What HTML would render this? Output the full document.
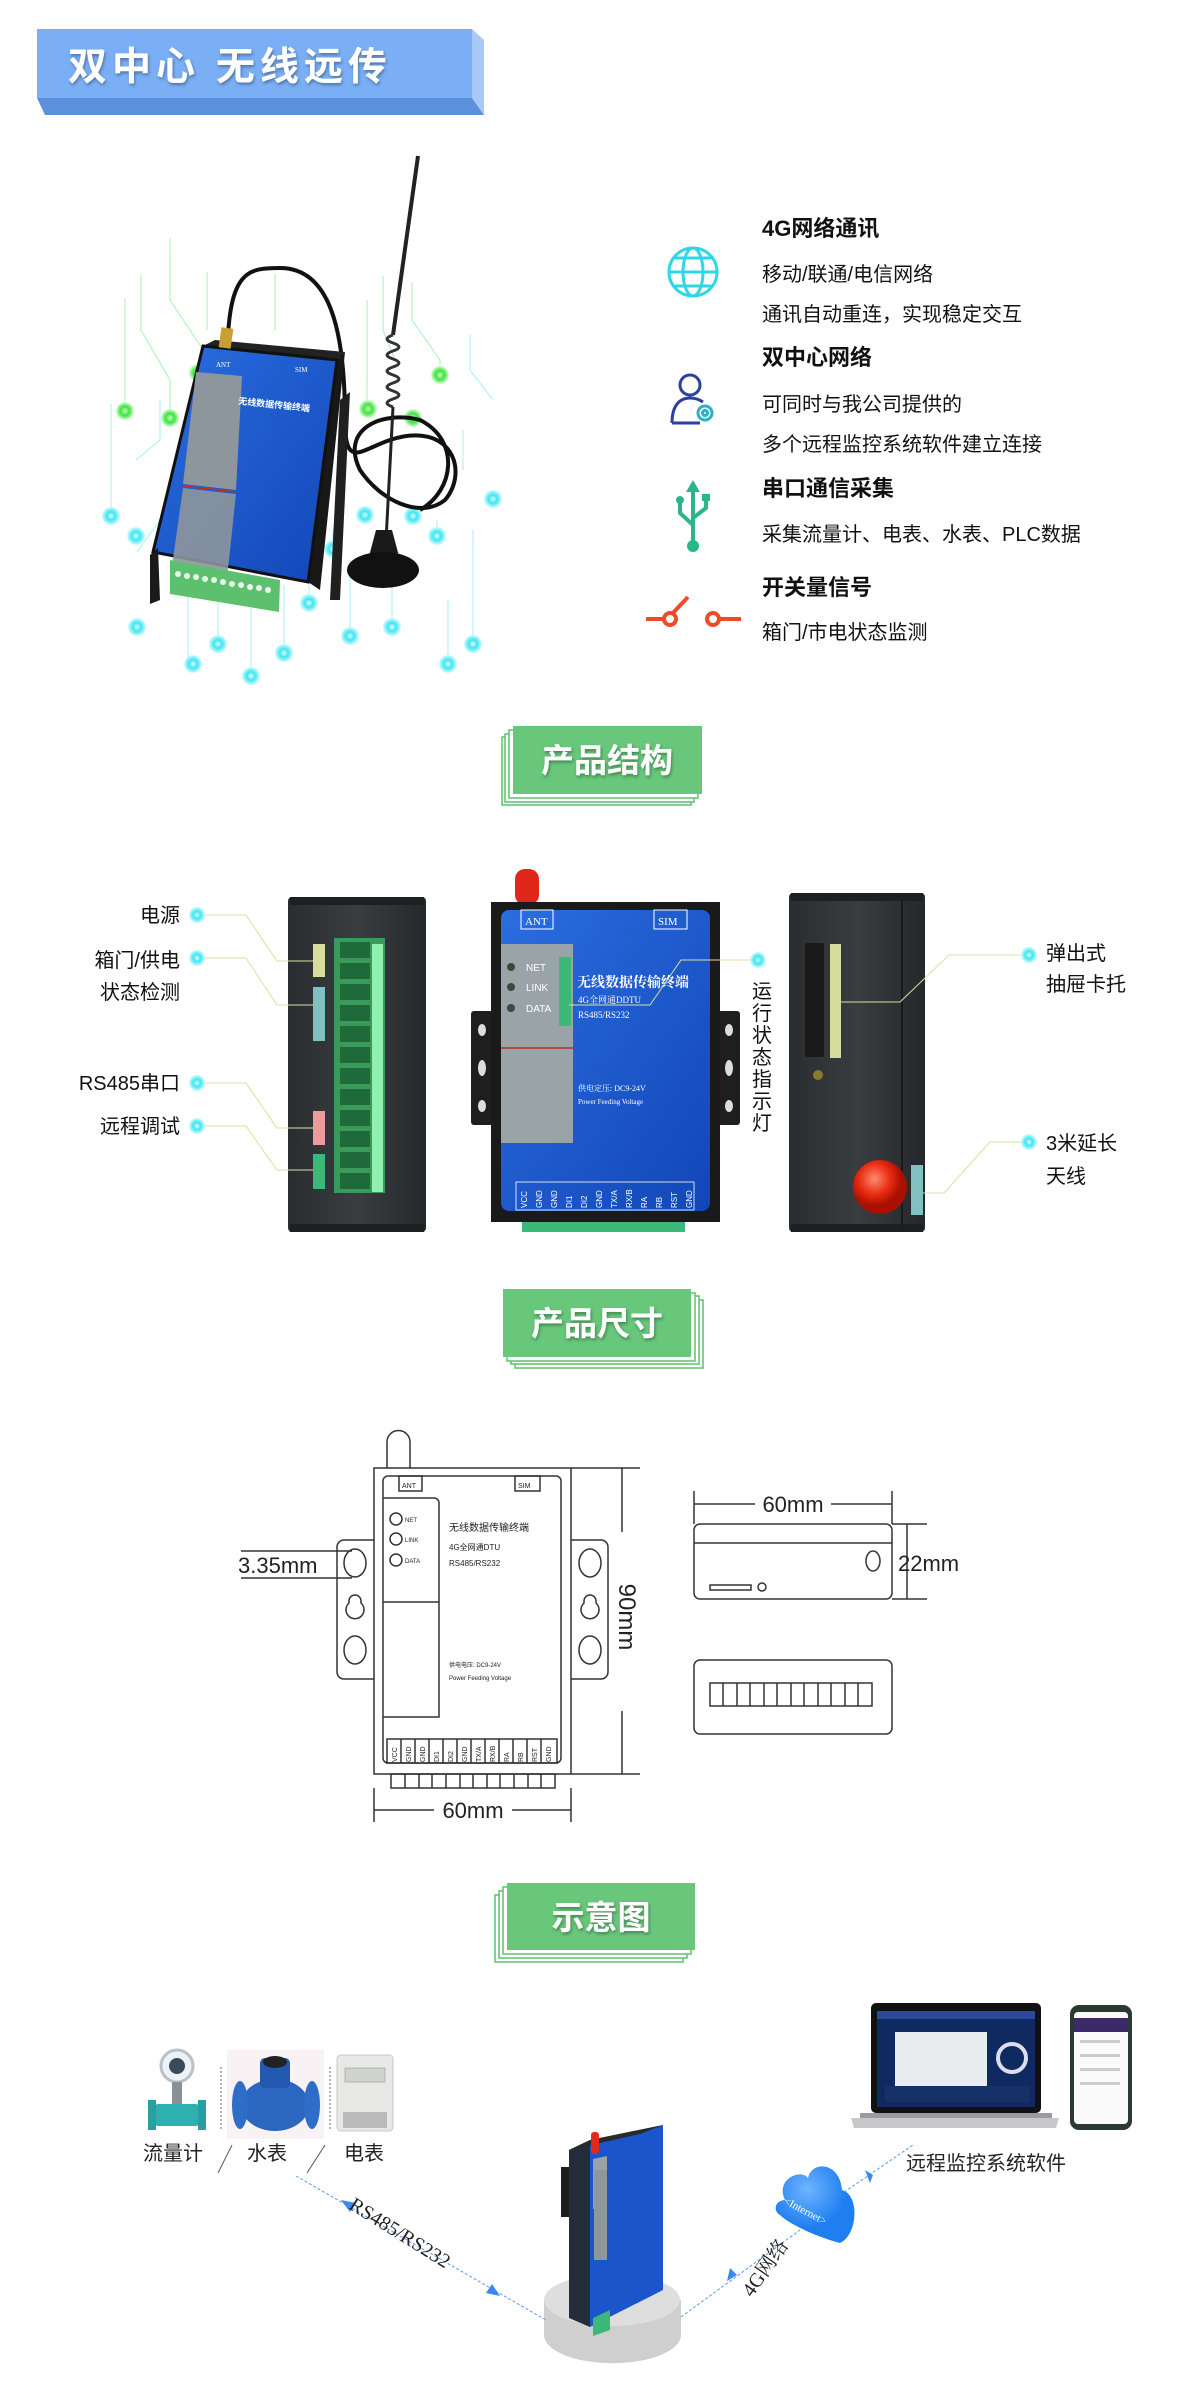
<!DOCTYPE html>
<html><head><meta charset="utf-8"><style>
html,body{margin:0;padding:0;background:#fff;}
svg{display:block;}
text{font-family:"Liberation Sans","Noto Sans CJK SC",sans-serif;}
.s{font-family:"Liberation Serif","Noto Serif CJK SC",serif;}
</style></head><body>
<svg width="1200" height="2401" viewBox="0 0 1200 2401" xmlns="http://www.w3.org/2000/svg">
<defs>
<filter id="sh" x="-10%" y="-10%" width="120%" height="130%"><feDropShadow dx="1" dy="2" stdDeviation="1.5" flood-color="#000" flood-opacity="0.35"/></filter>
<linearGradient id="blue" x1="0" y1="0" x2="1" y2="1"><stop offset="0" stop-color="#2a6ee0"/><stop offset="1" stop-color="#1246b8"/></linearGradient>
<linearGradient id="dark" x1="0" y1="0" x2="1" y2="0"><stop offset="0" stop-color="#2a2d30"/><stop offset=".5" stop-color="#3a3d40"/><stop offset="1" stop-color="#25282a"/></linearGradient>
<radialGradient id="cy"><stop offset="0" stop-color="#e8feff"/><stop offset=".45" stop-color="#3ee6f3"/><stop offset=".7" stop-color="#7ff0f8"/><stop offset="1" stop-color="#d5fbfe"/></radialGradient>
<radialGradient id="gr"><stop offset="0" stop-color="#c6ffc0"/><stop offset=".5" stop-color="#3fe23f"/><stop offset=".75" stop-color="#8cf08a"/><stop offset="1" stop-color="#dcfcdb"/></radialGradient>
<radialGradient id="knob" cx=".4" cy=".35"><stop offset="0" stop-color="#ff8a70"/><stop offset=".6" stop-color="#e82a10"/><stop offset="1" stop-color="#a81000"/></radialGradient>
<radialGradient id="cloud" cx=".4" cy=".3"><stop offset="0" stop-color="#6fb4ff"/><stop offset="1" stop-color="#1f7ff0"/></radialGradient>
</defs>

<!-- ===== Banner ===== -->
<polygon points="472,29 484,40 484,115 472,98" fill="#a9c9f9"/>
<polygon points="37,98 472,98 484,115 45,115" fill="#5b90dd"/>
<rect x="37" y="29" width="435" height="69" fill="#7aaff6"/>
<text x="68" y="80" font-size="39" font-weight="bold" fill="#fff" letter-spacing="5" filter="url(#sh)">双中心  无线远传</text>

<!-- ===== Section 1 product ===== -->
<g stroke="#8ff0a0" stroke-width="1" fill="none" opacity=".8">
<path d="M170 238 V300 L210 360"/><path d="M141 275 V330 L170 380 V418"/><path d="M125 298 V410"/><path d="M207 272 V330"/><path d="M275 274 V330"/><path d="M383 276 V330 L395 360"/><path d="M412 282 V320 L440 360 V375"/><path d="M367 300 V410"/>
</g>
<g stroke="#8eeaf2" stroke-width="1" fill="none" opacity=".8">
<path d="M111 404 V516"/><path d="M136 460 L160 440 V400"/><path d="M137 552 L160 520"/><path d="M188 575 V663"/><path d="M218 590 V645"/><path d="M251 600 V675"/><path d="M284 585 V653"/><path d="M309 530 V603"/><path d="M333 530 V548"/><path d="M350 560 V636"/><path d="M392 560 V627"/><path d="M437 520 V536"/><path d="M448 600 L448 664"/><path d="M473 530 V644"/><path d="M493 400 L470 370 V335"/><path d="M463 430 V470"/>
</g>
<g fill="url(#cy)">
<circle cx="111" cy="516" r="9"/><circle cx="136" cy="536" r="9"/><circle cx="137" cy="627" r="9"/><circle cx="193" cy="664" r="9"/><circle cx="218" cy="644" r="9"/><circle cx="251" cy="676" r="9"/><circle cx="284" cy="653" r="9"/><circle cx="309" cy="603" r="9"/><circle cx="333" cy="549" r="9"/><circle cx="350" cy="636" r="9"/><circle cx="365" cy="515" r="9"/><circle cx="392" cy="627" r="9"/><circle cx="413" cy="516" r="9"/><circle cx="437" cy="536" r="9"/><circle cx="448" cy="664" r="9"/><circle cx="473" cy="644" r="9"/><circle cx="493" cy="499" r="9"/>
</g>
<g fill="url(#gr)">
<circle cx="125" cy="411" r="9"/><circle cx="170" cy="418" r="9"/><circle cx="198" cy="373" r="9"/><circle cx="368" cy="409" r="9"/><circle cx="413" cy="418" r="9"/><circle cx="440" cy="375" r="9"/>
</g>
<!-- cable -->
<path d="M228 335 C232 270 250 268 280 268 C330 268 345 330 345 420 C345 470 360 450 390 440 C450 420 470 470 445 500 C420 520 380 500 360 470 C340 430 380 410 420 420 C460 440 455 490 420 510" stroke="#111" stroke-width="4" fill="none"/>
<!-- antenna -->
<line x1="418" y1="156" x2="393" y2="335" stroke="#222" stroke-width="4"/>
<path d="M393 335 q-12 4 0 8 q12 4 0 8 q-12 4 0 8 q12 4 0 8 q-12 4 0 8 q12 4 0 8 q-12 4 0 8 q12 4 0 8 q-12 4 0 8" stroke="#333" stroke-width="3" fill="none"/>
<line x1="393" y1="407" x2="385" y2="560" stroke="#222" stroke-width="3"/>
<path d="M376 530 L392 530 L400 560 L368 560 Z" fill="#1a1a1a"/>
<ellipse cx="383" cy="570" rx="36" ry="18" fill="#111"/>
<!-- device body -->
<polygon points="203,346 215,340 345,352 337,360" fill="#222"/>
<polygon points="337,360 345,352 320,590 308,582" fill="#181818"/>
<polygon points="203,346 337,360 308,582 153,552" fill="url(#blue)" stroke="#111" stroke-width="3"/>
<polygon points="196,372 242,376 236,490 183,484" fill="#8d969c"/>
<polygon points="183,488 236,494 226,588 170,580" fill="#8d969c" opacity=".9"/>
<line x1="183" y1="486" x2="236" y2="492" stroke="#c03020" stroke-width="1.5"/>
<polygon points="150,555 158,548 160,600 150,604" fill="#1a1a1a"/>
<polygon points="170,560 280,580 279,612 170,594" fill="#5cc06e"/>
<g fill="#e8f8ea"><circle cx="178" cy="574" r="3"/><circle cx="187" cy="576" r="3"/><circle cx="196" cy="577" r="3"/><circle cx="205" cy="579" r="3"/><circle cx="214" cy="580" r="3"/><circle cx="223" cy="582" r="3"/><circle cx="232" cy="584" r="3"/><circle cx="241" cy="585" r="3"/><circle cx="250" cy="587" r="3"/><circle cx="259" cy="588" r="3"/><circle cx="268" cy="590" r="3"/></g>
<rect x="220" y="328" width="12" height="20" fill="#c9a030" transform="rotate(8 226 338)"/>
<text x="216" y="367" font-size="7" fill="#fff" class="s">ANT</text><text x="295" y="372" font-size="7" fill="#fff" class="s">SIM</text>
<text x="238" y="404" font-size="9" fill="#fff" font-weight="bold" transform="rotate(6 238 404)">无线数据传输终端</text>
<polygon points="340,400 350,392 340,600 330,600" fill="#202020"/>

<!-- features -->
<g fill="none" stroke="#2fd6e6" stroke-width="3">
<circle cx="693" cy="272" r="24"/><ellipse cx="693" cy="272" rx="10" ry="24"/><line x1="669" y1="272" x2="717" y2="272"/><path d="M673 258 H713 M673 286 H713"/>
</g>
<g fill="none" stroke="#2b3f9e" stroke-width="3">
<circle cx="690" cy="385" r="10"/><path d="M672 423 C672 405 680 398 690 398 C696 398 700 400 703 402"/><line x1="672" y1="423" x2="700" y2="423"/>
<circle cx="705" cy="413" r="7" stroke="#2bb0d0"/><circle cx="705" cy="413" r="2.5" stroke="#2bb0d0"/>
</g>
<g stroke="#2bb58a" stroke-width="4" fill="none">
<line x1="693" y1="486" x2="693" y2="545"/><path d="M693 525 L680 513 V502"/><path d="M693 518 L706 508 V500"/>
</g>
<polygon points="693,480 686,492 700,492" fill="#2bb58a"/><circle cx="693" cy="546" r="6" fill="#2bb58a"/><circle cx="680" cy="500" r="4" fill="#2bb58a"/><rect x="702" y="494" width="8" height="7" fill="#2bb58a"/>
<g stroke="#ee4b28" stroke-width="4" fill="none">
<line x1="646" y1="619" x2="664" y2="619"/><circle cx="670" cy="619" r="6"/><line x1="672" y1="614" x2="688" y2="597"/><circle cx="713" cy="619" r="6"/><line x1="719" y1="619" x2="741" y2="619"/>
</g>
<g font-size="20" fill="#111">
<text x="762" y="236" font-size="22" font-weight="bold">4G网络通讯</text>
<text x="762" y="281">移动/联通/电信网络</text>
<text x="762" y="321">通讯自动重连，实现稳定交互</text>
<text x="762" y="365" font-size="22" font-weight="bold">双中心网络</text>
<text x="762" y="411">可同时与我公司提供的</text>
<text x="762" y="451">多个远程监控系统软件建立连接</text>
<text x="762" y="496" font-size="22" font-weight="bold">串口通信采集</text>
<text x="762" y="541">采集流量计、电表、水表、PLC数据</text>
<text x="762" y="595" font-size="22" font-weight="bold">开关量信号</text>
<text x="762" y="639">箱门/市电状态监测</text>
</g>

<!-- ===== Badge 产品结构 ===== -->
<g fill="#fff" stroke="#5fc06e" stroke-width="1.5">
<rect x="502" y="737" width="189" height="68"/><rect x="505" y="734" width="189" height="68"/><rect x="509" y="730" width="189" height="68"/>
</g>
<rect x="513" y="726" width="189" height="68" fill="#68c77b"/>
<text x="607" y="772" font-size="33" font-weight="bold" fill="#fff" text-anchor="middle" filter="url(#sh)">产品结构</text>

<!-- ===== Section 2 ===== -->
<!-- left panel -->
<rect x="288" y="897" width="138" height="335" rx="4" fill="url(#dark)"/>
<rect x="290" y="897" width="134" height="8" fill="#1d1f21"/>
<rect x="290" y="1224" width="134" height="8" fill="#1d1f21"/>
<rect x="334" y="938" width="51" height="255" fill="#3a9a5a"/>
<g fill="#1f6a3a"><rect x="340" y="942" width="30" height="16"/><rect x="340" y="963" width="30" height="16"/><rect x="340" y="984" width="30" height="16"/><rect x="340" y="1005" width="30" height="16"/><rect x="340" y="1026" width="30" height="16"/><rect x="340" y="1047" width="30" height="16"/><rect x="340" y="1068" width="30" height="16"/><rect x="340" y="1089" width="30" height="16"/><rect x="340" y="1110" width="30" height="16"/><rect x="340" y="1131" width="30" height="16"/><rect x="340" y="1152" width="30" height="16"/><rect x="340" y="1173" width="30" height="16"/></g>
<g fill="#8ff0b0"><rect x="372" y="944" width="11" height="248"/></g>
<rect x="313" y="944" width="12" height="33" fill="#d6dc9c"/>
<rect x="313" y="987" width="12" height="54" fill="#80c0c0"/>
<rect x="313" y="1111" width="12" height="34" fill="#ea9c9c"/>
<rect x="313" y="1154" width="12" height="35" fill="#3cb878"/>
<g stroke="#d8e0a0" stroke-width="1" fill="none">
<path d="M205 915 H246 L277 961 H313"/><path d="M205 958 H246 L277 1005 H313"/><path d="M205 1083 H246 L277 1128 H313"/><path d="M205 1126 H246 L277 1170 H313"/>
</g>
<g fill="url(#cy)"><circle cx="197" cy="915" r="8"/><circle cx="197" cy="958" r="8"/><circle cx="197" cy="1083" r="8"/><circle cx="197" cy="1126" r="8"/><circle cx="758" cy="960" r="8"/><circle cx="1029" cy="955" r="8"/><circle cx="1029" cy="1142" r="8"/></g>
<g font-size="20" fill="#111" text-anchor="end">
<text x="180" y="922">电源</text><text x="180" y="967">箱门/供电</text><text x="180" y="999">状态检测</text><text x="180" y="1090">RS485串口</text><text x="180" y="1133">远程调试</text>
</g>
<!-- middle device -->
<rect x="515" y="869" width="24" height="36" rx="10" fill="#e0281a"/>
<rect x="471" y="1011" width="22" height="114" rx="3" fill="#1e1e1e"/><rect x="718" y="1011" width="22" height="114" rx="3" fill="#1e1e1e"/>
<ellipse cx="482" cy="1030" rx="4" ry="6" fill="#ddd"/><ellipse cx="482" cy="1068" rx="4" ry="8" fill="#ddd"/><ellipse cx="482" cy="1106" rx="4" ry="6" fill="#ddd"/>
<ellipse cx="729" cy="1030" rx="4" ry="6" fill="#ddd"/><ellipse cx="729" cy="1068" rx="4" ry="8" fill="#ddd"/><ellipse cx="729" cy="1106" rx="4" ry="6" fill="#ddd"/>
<rect x="491" y="902" width="229" height="320" fill="#1a1a1a"/>
<rect x="522" y="1222" width="163" height="10" fill="#3cb878"/>
<rect x="501" y="910" width="209" height="301" rx="8" fill="url(#blue)"/>
<rect x="501" y="944" width="72" height="104" fill="#9aa3a8"/><rect x="501" y="1048" width="72" height="95" fill="#9aa3a8"/>
<line x1="501" y1="1048" x2="573" y2="1048" stroke="#b03020" stroke-width="1.5"/>
<rect x="559" y="957" width="12" height="69" fill="#3cb878"/>
<rect x="521" y="910" width="32" height="19" fill="none" stroke="#fff" stroke-width="1"/><rect x="654" y="910" width="33" height="19" fill="none" stroke="#fff" stroke-width="1"/>
<text x="525" y="925" font-size="11" fill="#fff" class="s">ANT</text><text x="658" y="925" font-size="11" fill="#fff" class="s">SIM</text>
<g fill="#3a4a3a"><circle cx="511" cy="967" r="4"/><circle cx="511" cy="987" r="4"/><circle cx="511" cy="1008" r="4"/></g>
<g font-size="10" fill="#fff" class="s"><text x="526" y="971">NET</text><text x="526" y="991">LINK</text><text x="526" y="1012">DATA</text></g>
<text x="577" y="987" font-size="14" font-weight="bold" fill="#fff" class="s">无线数据传输终端</text>
<text x="578" y="1003" font-size="9" fill="#fff" class="s">4G全网通DDTU</text>
<text x="578" y="1018" font-size="9" fill="#fff" class="s">RS485/RS232</text>
<text x="578" y="1091" font-size="8" fill="#fff" class="s">供电定压: DC9-24V</text>
<text x="578" y="1104" font-size="7" fill="#fff" class="s">Power Feeding Voltage</text>
<rect x="516" y="1182" width="178" height="28" fill="none" stroke="#fff" stroke-width=".8"/>
<g font-size="8" fill="#fff" class="s">
<text transform="translate(527 1208) rotate(-90)">VCC</text><text transform="translate(542 1208) rotate(-90)">GND</text><text transform="translate(557 1208) rotate(-90)">GND</text><text transform="translate(572 1208) rotate(-90)">DI1</text><text transform="translate(587 1208) rotate(-90)">DI2</text><text transform="translate(602 1208) rotate(-90)">GND</text><text transform="translate(617 1208) rotate(-90)">TX/A</text><text transform="translate(632 1208) rotate(-90)">RX/B</text><text transform="translate(647 1208) rotate(-90)">RA</text><text transform="translate(662 1208) rotate(-90)">RB</text><text transform="translate(677 1208) rotate(-90)">RST</text><text transform="translate(692 1208) rotate(-90)">GND</text>
</g>
<path d="M750 960 H681 L650 1005 H569" stroke="#d8e0a0" stroke-width="1" fill="none"/>
<g font-size="20" fill="#111">
<text x="752" y="998">运</text><text x="752" y="1020">行</text><text x="752" y="1042">状</text><text x="752" y="1064">态</text><text x="752" y="1086">指</text><text x="752" y="1108">示</text><text x="752" y="1130">灯</text>
</g>
<!-- right panel -->
<rect x="789" y="893" width="136" height="339" rx="4" fill="url(#dark)"/>
<rect x="791" y="893" width="132" height="8" fill="#1d1f21"/><rect x="791" y="1224" width="132" height="8" fill="#1d1f21"/>
<line x1="902" y1="900" x2="902" y2="1228" stroke="#1a1a1a" stroke-width="2"/>
<rect x="805" y="943" width="19" height="114" rx="2" fill="#1a1a1a"/>
<rect x="830" y="944" width="11" height="114" fill="#d6dc9c"/>
<circle cx="818" cy="1075" r="5" fill="#8a7a30"/>
<circle cx="880" cy="1187" r="27" fill="url(#knob)"/>
<rect x="911" y="1165" width="12" height="50" fill="#80c0c0"/>
<path d="M1021 955 H949 L900 1002 H841" stroke="#d8e0a0" stroke-width="1" fill="none"/>
<path d="M1021 1142 H990 L944 1193 H923" stroke="#d8e0a0" stroke-width="1" fill="none"/>
<g font-size="20" fill="#111">
<text x="1046" y="960">弹出式</text><text x="1046" y="991">抽屉卡托</text><text x="1046" y="1150">3米延长</text><text x="1046" y="1183">天线</text>
</g>

<!-- ===== Badge 产品尺寸 ===== -->
<g fill="#fff" stroke="#5fc06e" stroke-width="1.5">
<rect x="515" y="1300" width="188" height="68"/><rect x="511" y="1296" width="188" height="68"/><rect x="507" y="1293" width="188" height="68"/>
</g>
<rect x="503" y="1289" width="188" height="68" fill="#68c77b"/>
<text x="597" y="1335" font-size="33" font-weight="bold" fill="#fff" text-anchor="middle" filter="url(#sh)">产品尺寸</text>

<!-- ===== Section 3 drawing ===== -->
<g fill="none" stroke="#333" stroke-width="1.5">
<path d="M387 1468 V1442 a11.5 11.5 0 0 1 23 0 V1468"/>
<rect x="374" y="1468" width="197" height="306"/>
<rect x="383" y="1476" width="178" height="287" rx="5"/>
<rect x="399" y="1476" width="23" height="15"/><rect x="515" y="1476" width="25" height="15"/>
<path d="M383 1498 H434 a5 5 0 0 1 5 5 V1717 H383"/><line x1="383" y1="1602" x2="439" y2="1602"/>
<circle cx="396" cy="1519" r="6"/><circle cx="396" cy="1539" r="6"/><circle cx="396" cy="1560" r="6"/>
<path d="M374 1540 H344 a7 7 0 0 0 -7 7 V1672 a7 7 0 0 0 7 7 H374"/>
<path d="M571 1540 H601 a7 7 0 0 1 7 7 V1672 a7 7 0 0 1 -7 7 H571"/>
<ellipse cx="355" cy="1563" rx="11" ry="14"/><ellipse cx="355" cy="1650" rx="11" ry="14"/>
<ellipse cx="590" cy="1563" rx="11" ry="14"/><ellipse cx="590" cy="1650" rx="11" ry="14"/>
<path d="M355 1595 a6 6 0 0 1 6 6 v2 a9 9 0 1 1 -12 0 v-2 a6 6 0 0 1 6 -6z"/>
<path d="M590 1595 a6 6 0 0 1 6 6 v2 a9 9 0 1 1 -12 0 v-2 a6 6 0 0 1 6 -6z"/>
<rect x="387" y="1739" width="170" height="24"/>
<rect x="391" y="1774" width="164" height="14"/>
<path d="M405 1774 V1788 M419 1774 V1788 M432 1774 V1788 M446 1774 V1788 M460 1774 V1788 M473 1774 V1788 M487 1774 V1788 M500 1774 V1788 M514 1774 V1788 M528 1774 V1788 M541 1774 V1788"/>
<path d="M401 1739 V1763 M415 1739 V1763 M429 1739 V1763 M443 1739 V1763 M457 1739 V1763 M471 1739 V1763 M485 1739 V1763 M499 1739 V1763 M513 1739 V1763 M527 1739 V1763 M541 1739 V1763"/>
<path d="M571 1468 H640 M571 1774 H640 M622 1468 V1532 M622 1711 V1774"/>
<path d="M374 1788 V1822 M571 1788 V1822 M374 1810 H434 M512 1810 H571"/>
<path d="M241 1551 H352 M241 1578 H352"/>
<rect x="694" y="1524" width="198" height="75" rx="6"/><line x1="694" y1="1543" x2="892" y2="1543"/>
<ellipse cx="873" cy="1561" rx="7" ry="10"/><rect x="710" y="1585" width="41" height="5"/><circle cx="762" cy="1587" r="4"/>
<path d="M694 1491 V1524 M892 1491 V1524 M694 1504 H755 M831 1504 H892"/>
<path d="M892 1524 H927 M892 1599 H927 M907 1524 V1599"/>
<rect x="694" y="1660" width="198" height="74" rx="6"/>
<rect x="710" y="1683" width="162" height="23"/>
<path d="M723 1683 V1706 M737 1683 V1706 M750 1683 V1706 M764 1683 V1706 M777 1683 V1706 M791 1683 V1706 M804 1683 V1706 M818 1683 V1706 M831 1683 V1706 M845 1683 V1706 M858 1683 V1706"/>
</g>
<g class="s" fill="#222">
<text x="449" y="1531" font-size="10">无线数据传输终端</text>
<text x="449" y="1550" font-size="8">4G全网通DTU</text>
<text x="449" y="1566" font-size="8">RS485/RS232</text>
<text x="405" y="1522" font-size="6">NET</text><text x="405" y="1542" font-size="6">LINK</text><text x="405" y="1563" font-size="6">DATA</text>
<text x="402" y="1488" font-size="7">ANT</text><text x="518" y="1488" font-size="7">SIM</text>
<text x="449" y="1667" font-size="6">供电电压: DC9-24V</text>
<text x="449" y="1680" font-size="6">Power Feeding Voltage</text>
<g font-size="7">
<text transform="translate(397 1762) rotate(-90)">VCC</text><text transform="translate(411 1762) rotate(-90)">GND</text><text transform="translate(425 1762) rotate(-90)">GND</text><text transform="translate(439 1762) rotate(-90)">DI1</text><text transform="translate(453 1762) rotate(-90)">DI2</text><text transform="translate(467 1762) rotate(-90)">GND</text><text transform="translate(481 1762) rotate(-90)">TX/A</text><text transform="translate(495 1762) rotate(-90)">RX/B</text><text transform="translate(509 1762) rotate(-90)">RA</text><text transform="translate(523 1762) rotate(-90)">RB</text><text transform="translate(537 1762) rotate(-90)">RST</text><text transform="translate(551 1762) rotate(-90)">GND</text>
</g>
<text x="473" y="1818" font-size="22" text-anchor="middle">60mm</text>
<text x="238" y="1573" font-size="22">3.35mm</text>
<text transform="translate(619 1617) rotate(90)" font-size="24" text-anchor="middle">90mm</text>
<text x="793" y="1512" font-size="22" text-anchor="middle">60mm</text>
<text x="898" y="1571" font-size="22">22mm</text>
</g>

<!-- ===== Badge 示意图 ===== -->
<g fill="#fff" stroke="#5fc06e" stroke-width="1.5">
<rect x="495" y="1895" width="188" height="67"/><rect x="499" y="1891" width="188" height="67"/><rect x="503" y="1887" width="188" height="67"/>
</g>
<rect x="507" y="1883" width="188" height="67" fill="#68c77b"/>
<text x="601" y="1929" font-size="33" font-weight="bold" fill="#fff" text-anchor="middle" filter="url(#sh)">示意图</text>

<!-- ===== Section 4 ===== -->
<!-- flow meter -->
<circle cx="177" cy="2066" r="16" fill="#eef2f6" stroke="#b8c0c8" stroke-width="3"/><circle cx="177" cy="2066" r="8" fill="#3a4a5a"/>
<rect x="172" y="2082" width="10" height="22" fill="#8a9098"/>
<rect x="155" y="2104" width="44" height="22" rx="3" fill="#2fb0b0"/>
<rect x="148" y="2100" width="8" height="30" fill="#28a0a0"/><rect x="198" y="2100" width="8" height="30" fill="#28a0a0"/>
<!-- water meter -->
<rect x="227" y="2050" width="97" height="89" fill="#f8f2f4"/>
<ellipse cx="275" cy="2105" rx="34" ry="26" fill="#2b66c0"/>
<rect x="260" y="2058" width="30" height="30" rx="5" fill="#2258b0"/><ellipse cx="275" cy="2062" rx="12" ry="6" fill="#222"/>
<ellipse cx="240" cy="2105" rx="8" ry="24" fill="#2f6ec8"/><ellipse cx="312" cy="2105" rx="8" ry="24" fill="#2f6ec8"/>
<!-- elec meter -->
<rect x="337" y="2055" width="56" height="76" rx="4" fill="#e8e8e6" stroke="#c8c8c4"/>
<rect x="345" y="2068" width="40" height="14" fill="#d0d4d0" stroke="#888" stroke-width=".5"/>
<rect x="343" y="2112" width="44" height="16" fill="#bbb"/>
<line x1="221" y1="2067" x2="221" y2="2130" stroke="#666" stroke-dasharray="2 2"/><line x1="330" y1="2067" x2="330" y2="2130" stroke="#666" stroke-dasharray="2 2"/>
<g font-size="20" fill="#222">
<text x="143" y="2160">流量计</text><text x="247" y="2160">水表</text><text x="344" y="2160">电表</text>
</g>
<line x1="232" y1="2145" x2="218" y2="2173" stroke="#555"/><line x1="325" y1="2145" x2="307" y2="2173" stroke="#555"/>
<!-- laptop -->
<rect x="871" y="2003" width="170" height="110" rx="5" fill="#111"/>
<rect x="877" y="2011" width="158" height="96" fill="#0f2a60"/>
<rect x="877" y="2011" width="158" height="8" fill="#2a4aa0"/>
<rect x="895" y="2032" width="92" height="60" fill="#e8ecef"/>
<circle cx="1012" cy="2058" r="14" fill="none" stroke="#dde" stroke-width="4"/>
<rect x="885" y="2086" width="145" height="16" fill="#16306a"/>
<path d="M851 2118 H1059 L1056 2128 H854 Z" fill="#c8c8cc"/><rect x="860" y="2113" width="192" height="5" fill="#9a9aa0"/>
<!-- phone -->
<rect x="1070" y="2005" width="62" height="125" rx="9" fill="#2a3a30"/>
<rect x="1074" y="2012" width="54" height="112" rx="4" fill="#fafafa"/>
<rect x="1074" y="2018" width="54" height="14" fill="#3a2a6a"/>
<g fill="#ccc"><rect x="1080" y="2040" width="40" height="3"/><rect x="1080" y="2054" width="40" height="3"/><rect x="1080" y="2068" width="40" height="3"/><rect x="1080" y="2082" width="40" height="3"/></g>
<text x="906" y="2170" font-size="20" fill="#222">远程监控系统软件</text>
<!-- pedestal -->
<path d="M544 2300 V2335 A68 28 0 0 0 681 2335 V2300 Z" fill="#cfcfcf"/>
<ellipse cx="612" cy="2300" rx="68" ry="26" fill="#dedede"/>
<!-- device -->
<rect x="561" y="2167" width="8" height="50" fill="#1d1d1d"/>
<polygon points="569,2150 590,2140 590,2327 569,2318" fill="#222c3a"/>
<polygon points="590,2140 663,2125 663,2290 590,2327" fill="#1a55cc"/>
<polygon points="590,2140 569,2150 640,2134 663,2125" fill="#2a2a2a"/>
<rect x="593" y="2158" width="14" height="50" fill="#9aa3a8" transform="skewY(-12) translate(0 127)"/>
<rect x="594" y="2170" width="13" height="90" fill="#8e989c"/>
<polygon points="593,2318 610,2310 610,2330 593,2336" fill="#3cb878"/>
<rect x="591" y="2132" width="8" height="22" rx="3" fill="#e02a1a"/>
<!-- lines -->
<g stroke="#5a9af0" stroke-width="1" stroke-dasharray="3 2" fill="none">
<line x1="296" y1="2176" x2="546" y2="2320"/>
<line x1="681" y1="2317" x2="800" y2="2230"/>
<line x1="840" y1="2195" x2="913" y2="2145"/>
</g>
<g fill="#3a88f0">
<polygon points="341,2200 350,2212 356,2203"/>
<polygon points="500,2296 492,2284 486,2293"/>
<polygon points="727,2281 737,2275 730,2268"/>
<polygon points="873,2175 865,2170 870,2183"/>
</g>
<text transform="translate(348 2208) rotate(32)" font-size="20" fill="#222" class="s">RS485/RS232</text>
<text transform="translate(752 2298) rotate(-55)" font-size="20" fill="#222" class="s">4G网络</text>
<!-- cloud -->
<path d="M785 2200 C775 2180 800 2168 808 2178 C812 2160 840 2162 842 2190 C860 2195 858 2235 840 2243 C820 2238 790 2225 780 2215 C772 2210 776 2200 785 2200 Z" fill="url(#cloud)"/>
<text transform="translate(783 2203) rotate(28)" font-size="11" fill="#fff" class="s">&lt;Internet&gt;</text>
</svg>
</body></html>
